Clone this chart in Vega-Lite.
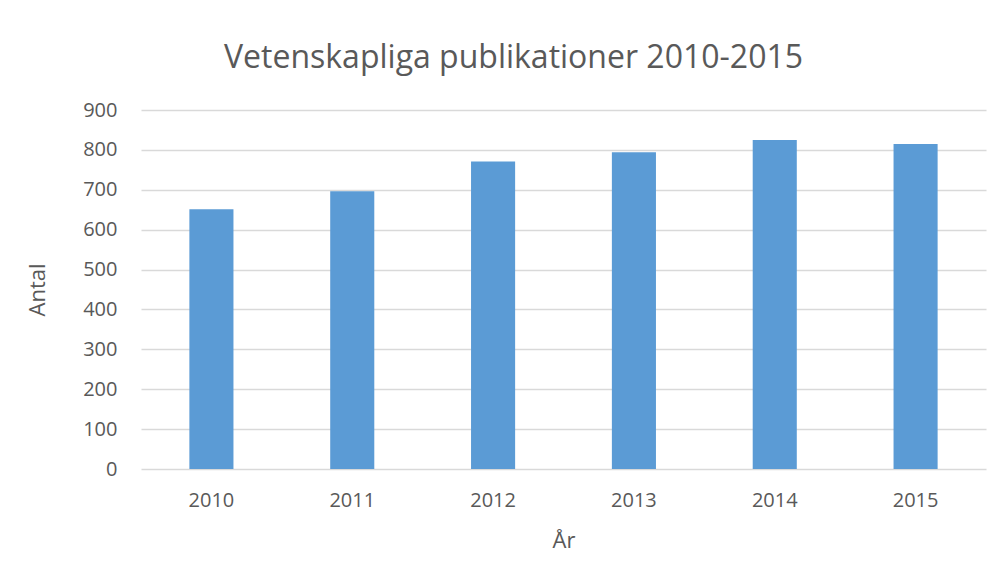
{
  "$schema": "https://vega.github.io/schema/vega-lite/v6.json",
  "autosize": {"type": "none"},
  "padding": {"left": 141, "top": 110, "right": 17, "bottom": 112},
  "width": 845,
  "height": 359,
  "background": "white",
  "title": {
    "text": "Vetenskapliga publikationer 2010-2015",
    "font": "Open Sans",
    "fontSize": 32,
    "fontWeight": "normal",
    "color": "#595959",
    "anchor": "middle",
    "dx": -50,
    "offset": 25
  },
  "data": {
    "values": [
      {"year": "2010", "count": 651},
      {"year": "2011", "count": 696},
      {"year": "2012", "count": 771},
      {"year": "2013", "count": 794},
      {"year": "2014", "count": 825},
      {"year": "2015", "count": 815}
    ]
  },
  "mark": {"type": "bar", "color": "#5B9BD5"},
  "encoding": {
    "x": {
      "field": "year",
      "type": "ordinal",
      "title": "År",
      "scale": {"paddingInner": 0.687, "paddingOuter": 0.3435},
      "axis": {
        "labelAngle": 0,
        "labelFontSize": 20,
        "labelPadding": 21,
        "titleFontSize": 22,
        "titlePadding": 20,
        "ticks": false,
        "domain": false
      }
    },
    "y": {
      "field": "count",
      "type": "quantitative",
      "title": "Antal",
      "scale": {"domain": [0, 900]},
      "axis": {
        "values": [0, 100, 200, 300, 400, 500, 600, 700, 800, 900],
        "labelFontSize": 20,
        "labelPadding": 24,
        "titleFontSize": 22,
        "titlePadding": 33,
        "ticks": false,
        "domain": false,
        "grid": true,
        "gridColor": "#D9D9D9",
        "gridWidth": 1.5
      }
    }
  },
  "config": {
    "view": {"stroke": null},
    "axis": {
      "labelFont": "Open Sans",
      "titleFont": "Open Sans",
      "labelColor": "#595959",
      "titleColor": "#595959",
      "titleFontWeight": "normal"
    },
    "axisX": {"grid": false}
  }
}
